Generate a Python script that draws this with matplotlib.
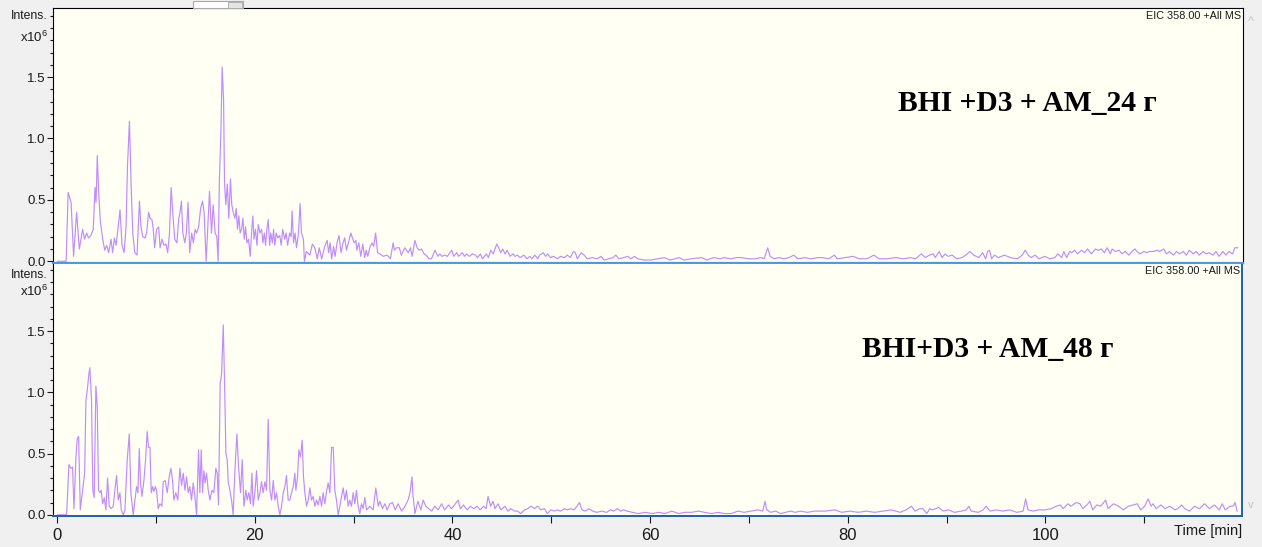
import numpy as np
import matplotlib
matplotlib.use('Agg')
import matplotlib.pyplot as plt
from matplotlib import font_manager
from matplotlib.patches import Rectangle
from matplotlib.ticker import MultipleLocator, FixedLocator

# EIC 358.00 (time in min, intensity in 1e6)
t_24 = [0.0, 0.9, 1.1, 1.4, 1.65, 1.96, 2.23, 2.57, 2.76, 2.97, 3.17, 3.4, 3.64, 3.82, 3.92, 4.05, 4.19, 4.36, 4.6, 4.8,
        5.0, 5.2, 5.44, 5.6, 5.78, 5.95, 6.15, 6.35, 6.55, 6.76, 6.96, 7.1, 7.3, 7.47, 7.64, 7.84, 8.07, 8.31, 8.47, 8.64,
        8.88, 9.04, 9.24, 9.38, 9.58, 9.71, 9.85, 10.05, 10.26, 10.4, 10.6, 10.8, 11.0, 11.17, 11.35, 11.52, 11.68, 11.88, 12.1, 12.29,
        12.42, 12.56, 12.7, 12.9, 13.06, 13.23, 13.4, 13.6, 13.77, 13.94, 14.1, 14.3, 14.5, 14.69, 14.85, 15.06, 15.2, 15.4, 15.6, 15.77,
        15.97, 16.14, 16.27, 16.4, 16.55, 16.68, 16.82, 16.92, 17.05, 17.2, 17.35, 17.52, 17.65, 17.8, 17.97, 18.1, 18.23, 18.37, 18.5, 18.64,
        18.78, 18.91, 19.05, 19.18, 19.35, 19.52, 19.65, 19.78, 19.9, 20.05, 20.2, 20.33, 20.5, 20.67, 20.8, 20.94, 21.07, 21.2, 21.34, 21.48,
        21.6, 21.75, 21.88, 22.0, 22.15, 22.3, 22.5, 22.65, 22.8, 23.0, 23.15, 23.3, 23.5, 23.65, 23.75, 23.9, 24.05, 24.2, 24.4, 24.56,
        24.7, 24.9, 25.0, 25.2, 25.55, 25.8, 26.05, 26.3, 26.5, 26.75, 27.05, 27.3, 27.45, 27.6, 27.75, 27.95, 28.1, 28.3, 28.5, 28.7,
        28.9, 29.08, 29.25, 29.45, 29.69, 29.85, 30.05, 30.2, 30.3, 30.5, 30.7, 30.9, 31.1, 31.25, 31.4, 31.65, 31.85, 32.0, 32.2, 32.4,
        32.6, 32.8, 33.0, 33.3, 33.5, 33.7, 33.97, 34.1, 34.3, 34.6, 34.8, 35.15, 35.5, 35.73, 35.9, 36.17, 36.4, 36.6, 36.85, 37.1,
        37.3, 37.6, 37.85, 38.2, 38.5, 38.7, 38.9, 39.2, 39.45, 39.9, 40.1, 40.4, 40.6, 40.96, 41.2, 41.4, 41.7, 42.0, 42.3, 42.5,
        42.8, 43.0, 43.4, 43.6, 43.85, 44.1, 44.45, 44.65, 44.85, 45.05, 45.3, 45.5, 45.8, 46.1, 46.3, 46.55, 46.8, 47.2, 47.5, 47.8,
        48.0, 48.3, 48.6, 48.8, 49.15, 49.4, 49.6, 49.9, 50.2, 50.6, 50.9, 51.3, 51.6, 51.9, 52.2, 52.4, 52.6, 53.0, 53.3, 53.6,
        54.1, 54.6, 55.0, 55.3, 55.8, 56.2, 56.5, 56.8, 57.3, 57.7, 58.0, 58.4, 58.7, 59.4, 60.0, 60.7, 61.4, 62.0, 62.9, 63.4,
        64.1, 65.2, 65.7, 66.4, 67.1, 67.4, 68.1, 68.7, 69.2, 69.9, 70.6, 71.2, 71.5, 71.86, 72.1, 72.5, 73.0, 73.5, 74.0, 74.5,
        74.9, 75.6, 76.2, 76.9, 77.4, 78.05, 78.6, 78.9, 79.7, 80.5, 81.1, 81.9, 82.6, 83.1, 83.9, 84.8, 85.6, 86.3, 86.8, 87.4,
        87.8, 88.2, 88.6, 88.8, 89.2, 89.5, 89.8, 90.1, 90.5, 91.0, 91.5, 91.9, 92.3, 92.7, 93.2, 93.6, 93.9, 94.1, 94.3, 94.5,
        94.8, 95.2, 95.8, 96.4, 97.1, 97.6, 97.9, 98.2, 98.5, 98.9, 99.3, 99.9, 100.4, 100.9, 101.2, 101.6, 101.8, 102.1, 102.4, 102.6,
        102.9, 103.2, 103.6, 103.9, 104.2, 104.6, 105.0, 105.3, 105.6, 105.9, 106.2, 106.5, 106.7, 107.0, 107.4, 107.7, 108.0, 108.4, 108.7, 109.0,
        109.2, 109.5, 109.9, 110.2, 110.5, 110.9, 111.2, 111.5, 111.9, 112.2, 112.5, 112.9, 113.2, 113.5, 113.9, 114.2, 114.5, 114.9, 115.2, 115.5,
        115.9, 116.2, 116.5, 116.9, 117.2, 117.5, 117.9, 118.2, 118.5, 118.9, 119.1, 119.4]
i_24 = [0.0, 0.0, 0.56, 0.48, 0.04, 0.40, 0.10, 0.26, 0.18, 0.23, 0.19, 0.21, 0.26, 0.60, 0.48, 0.86, 0.56, 0.32, 0.18, 0.09,
        0.13, 0.07, 0.18, 0.07, 0.19, 0.13, 0.27, 0.42, 0.13, 0.07, 0.28, 0.77, 1.14, 0.62, 0.23, 0.07, 0.05, 0.49, 0.28, 0.20,
        0.19, 0.23, 0.40, 0.35, 0.34, 0.26, 0.11, 0.26, 0.28, 0.11, 0.18, 0.13, 0.14, 0.07, 0.23, 0.60, 0.40, 0.18, 0.15, 0.35,
        0.40, 0.49, 0.23, 0.15, 0.23, 0.48, 0.07, 0.23, 0.15, 0.26, 0.23, 0.28, 0.43, 0.49, 0.40, 0.0, 0.23, 0.57, 0.23, 0.46,
        0.23, 0.20, 0.0, 0.67, 1.05, 1.58, 1.32, 0.63, 0.46, 0.63, 0.35, 0.67, 0.46, 0.40, 0.35, 0.43, 0.26, 0.37, 0.23, 0.26,
        0.35, 0.18, 0.28, 0.15, 0.18, 0.04, 0.23, 0.37, 0.18, 0.26, 0.13, 0.30, 0.23, 0.26, 0.15, 0.23, 0.13, 0.26, 0.34, 0.13,
        0.23, 0.15, 0.26, 0.13, 0.23, 0.19, 0.21, 0.13, 0.26, 0.18, 0.23, 0.13, 0.23, 0.20, 0.41, 0.15, 0.23, 0.11, 0.23, 0.47,
        0.23, 0.18, 0.0, 0.08, 0.05, 0.14, 0.11, 0.02, 0.11, 0.02, 0.12, 0.17, 0.07, 0.15, 0.02, 0.12, 0.04, 0.15, 0.21, 0.07,
        0.15, 0.19, 0.09, 0.15, 0.23, 0.19, 0.15, 0.17, 0.09, 0.15, 0.04, 0.14, 0.03, 0.09, 0.04, 0.12, 0.15, 0.12, 0.23, 0.07,
        0.06, 0.05, 0.04, 0.05, 0.04, 0.02, 0.15, 0.09, 0.11, 0.11, 0.05, 0.11, 0.07, 0.11, 0.04, 0.17, 0.11, 0.09, 0.10, 0.06,
        0.05, 0.02, 0.02, 0.09, 0.04, 0.06, 0.04, 0.05, 0.04, 0.09, 0.04, 0.07, 0.04, 0.07, 0.04, 0.06, 0.04, 0.06, 0.05, 0.03,
        0.06, 0.02, 0.06, 0.03, 0.09, 0.06, 0.14, 0.11, 0.07, 0.10, 0.06, 0.09, 0.04, 0.06, 0.04, 0.05, 0.03, 0.05, 0.02, 0.04,
        0.02, 0.05, 0.02, 0.05, 0.07, 0.04, 0.06, 0.03, 0.04, 0.02, 0.04, 0.03, 0.05, 0.03, 0.08, 0.07, 0.02, 0.07, 0.05, 0.02,
        0.03, 0.02, 0.04, 0.01, 0.02, 0.03, 0.05, 0.02, 0.03, 0.04, 0.02, 0.04, 0.02, 0.01, 0.01, 0.02, 0.03, 0.01, 0.03, 0.01,
        0.02, 0.03, 0.01, 0.03, 0.02, 0.03, 0.02, 0.03, 0.03, 0.02, 0.02, 0.03, 0.02, 0.11, 0.04, 0.02, 0.03, 0.02, 0.03, 0.05,
        0.02, 0.03, 0.02, 0.03, 0.03, 0.02, 0.05, 0.02, 0.03, 0.04, 0.02, 0.02, 0.05, 0.02, 0.02, 0.03, 0.02, 0.03, 0.02, 0.06,
        0.03, 0.05, 0.06, 0.03, 0.08, 0.03, 0.06, 0.04, 0.05, 0.02, 0.03, 0.05, 0.08, 0.05, 0.03, 0.07, 0.02, 0.08, 0.09, 0.02,
        0.05, 0.03, 0.05, 0.03, 0.02, 0.05, 0.09, 0.05, 0.03, 0.05, 0.02, 0.04, 0.02, 0.03, 0.06, 0.03, 0.08, 0.03, 0.08, 0.07,
        0.09, 0.06, 0.09, 0.07, 0.10, 0.06, 0.10, 0.09, 0.10, 0.07, 0.11, 0.06, 0.10, 0.08, 0.09, 0.06, 0.08, 0.05, 0.08, 0.10,
        0.08, 0.06, 0.08, 0.07, 0.08, 0.08, 0.09, 0.08, 0.10, 0.06, 0.08, 0.05, 0.08, 0.06, 0.08, 0.05, 0.09, 0.06, 0.08, 0.05,
        0.08, 0.06, 0.07, 0.05, 0.08, 0.04, 0.08, 0.05, 0.08, 0.06, 0.11, 0.11]

t_48 = [0.0, 0.95, 1.18, 1.38, 1.55, 1.69, 1.89, 2.02, 2.16, 2.33, 2.56, 2.77, 2.9, 3.07, 3.2, 3.3, 3.47, 3.6, 3.74, 3.91,
        4.05, 4.18, 4.32, 4.45, 4.59, 4.76, 4.92, 5.09, 5.26, 5.46, 5.67, 5.83, 6.0, 6.17, 6.34, 6.48, 6.68, 6.85, 7.08, 7.29,
        7.45, 7.69, 7.86, 8.03, 8.16, 8.3, 8.43, 8.57, 8.77, 8.94, 9.1, 9.24, 9.38, 9.51, 9.65, 9.78, 9.92, 10.05, 10.22, 10.39,
        10.59, 10.72, 10.93, 11.13, 11.33, 11.5, 11.67, 11.8, 12.0, 12.2, 12.41, 12.58, 12.75, 12.92, 13.09, 13.25, 13.42, 13.59, 13.76, 13.93,
        14.1, 14.3, 14.43, 14.57, 14.7, 14.84, 14.97, 15.11, 15.28, 15.45, 15.65, 15.85, 16.05, 16.19, 16.32, 16.49, 16.63, 16.8, 16.93, 17.07,
        17.2, 17.3, 17.47, 17.64, 17.8, 17.98, 18.18, 18.35, 18.55, 18.72, 18.89, 19.09, 19.22, 19.39, 19.56, 19.7, 19.83, 20.0, 20.17, 20.34,
        20.51, 20.67, 20.84, 21.01, 21.18, 21.35, 21.52, 21.69, 21.86, 22.02, 22.19, 22.36, 22.53, 22.7, 22.87, 23.04, 23.2, 23.37, 23.54, 23.71,
        23.88, 24.05, 24.15, 24.32, 24.45, 24.62, 24.79, 24.92, 25.06, 25.23, 25.4, 25.56, 25.73, 25.9, 26.07, 26.24, 26.41, 26.58, 26.75, 26.91,
        27.08, 27.25, 27.42, 27.59, 27.76, 27.93, 28.09, 28.26, 28.43, 28.6, 28.77, 28.94, 29.1, 29.27, 29.44, 29.61, 29.78, 29.95, 30.12, 30.28,
        30.45, 30.62, 30.79, 30.96, 31.13, 31.3, 31.64, 31.97, 32.24, 32.48, 32.65, 32.92, 33.15, 33.39, 33.66, 33.93, 34.2, 34.5, 34.85, 35.2,
        35.5, 35.7, 35.9, 36.0, 36.2, 36.5, 36.8, 37.03, 37.3, 37.6, 37.9, 38.2, 38.55, 38.9, 39.2, 39.6, 39.9, 40.2, 40.57, 40.8,
        41.1, 41.5, 41.8, 42.15, 42.5, 42.8, 43.15, 43.4, 43.6, 43.85, 44.1, 44.3, 44.6, 44.9, 45.3, 45.6, 45.9, 46.3, 46.6, 46.9,
        47.3, 47.6, 47.95, 48.3, 48.6, 48.95, 49.3, 49.6, 49.95, 50.3, 50.6, 50.95, 51.3, 51.6, 51.95, 52.3, 52.6, 52.85, 53.1, 53.45,
        53.8, 54.2, 54.6, 55.1, 55.6, 56.0, 56.3, 56.7, 57.0, 57.3, 57.7, 58.2, 58.8, 59.5, 60.2, 60.9, 61.5, 62.2, 62.9, 63.5,
        64.2, 64.9, 65.5, 66.2, 66.9, 67.5, 68.2, 68.9, 69.5, 70.2, 70.9, 71.4, 71.63, 71.8, 72.2, 72.7, 73.2, 73.7, 74.2, 74.7,
        75.2, 75.9, 76.6, 77.7, 78.7, 79.4, 80.2, 81.05, 81.9, 82.7, 83.6, 84.4, 85.3, 85.9, 86.45, 86.8, 87.3, 87.6, 88.0, 88.3,
        88.6, 89.2, 89.65, 90.2, 90.8, 91.5, 92.0, 92.25, 92.5, 93.2, 93.7, 94.0, 94.4, 95.05, 95.7, 96.4, 97.1, 97.75, 98.0, 98.25,
        98.8, 99.3, 100.0, 100.6, 101.1, 101.5, 101.8, 102.3, 102.6, 103.1, 103.5, 103.8, 104.2, 104.5, 104.8, 105.2, 105.6, 106.1, 106.35, 106.9,
        107.4, 107.9, 108.4, 108.9, 109.3, 109.65, 110.05, 110.4, 110.7, 110.9, 111.2, 111.7, 112.1, 112.6, 113.1, 113.4, 113.8, 114.1, 114.6, 115.1,
        115.6, 116.1, 116.6, 117.1, 117.6, 117.9, 118.2, 118.7, 119.0, 119.2, 119.4]
i_48 = [0.0, 0.0, 0.41, 0.38, 0.39, 0.05, 0.47, 0.62, 0.64, 0.04, 0.20, 0.34, 0.93, 1.04, 1.15, 1.20, 0.93, 0.20, 0.14, 1.05,
        0.88, 0.20, 0.18, 0.20, 0.09, 0.14, 0.04, 0.30, 0.07, 0.05, 0.07, 0.20, 0.32, 0.12, 0.18, 0.04, 0.0, 0.04, 0.45, 0.66,
        0.18, 0.0, 0.12, 0.23, 0.18, 0.54, 0.26, 0.15, 0.28, 0.45, 0.68, 0.55, 0.55, 0.18, 0.23, 0.19, 0.23, 0.20, 0.05, 0.09,
        0.07, 0.27, 0.28, 0.18, 0.31, 0.38, 0.28, 0.12, 0.18, 0.12, 0.38, 0.24, 0.34, 0.20, 0.31, 0.18, 0.23, 0.12, 0.26, 0.15,
        0.0, 0.53, 0.18, 0.53, 0.18, 0.36, 0.26, 0.34, 0.20, 0.12, 0.20, 0.18, 0.38, 0.34, 0.08, 1.07, 1.15, 1.55, 1.09, 0.50,
        0.45, 0.27, 0.20, 0.12, 0.0, 0.36, 0.66, 0.39, 0.18, 0.45, 0.07, 0.20, 0.12, 0.18, 0.09, 0.34, 0.07, 0.18, 0.36, 0.12,
        0.18, 0.27, 0.18, 0.27, 0.20, 0.78, 0.20, 0.12, 0.28, 0.12, 0.18, 0.07, 0.0, 0.07, 0.18, 0.23, 0.32, 0.12, 0.12, 0.18,
        0.23, 0.34, 0.20, 0.31, 0.53, 0.47, 0.61, 0.31, 0.18, 0.07, 0.12, 0.22, 0.12, 0.15, 0.07, 0.12, 0.08, 0.15, 0.07, 0.18,
        0.09, 0.19, 0.26, 0.18, 0.55, 0.55, 0.20, 0.12, 0.0, 0.07, 0.15, 0.22, 0.12, 0.20, 0.07, 0.12, 0.07, 0.18, 0.09, 0.20,
        0.07, 0.01, 0.09, 0.05, 0.14, 0.04, 0.07, 0.04, 0.22, 0.07, 0.11, 0.05, 0.09, 0.04, 0.09, 0.10, 0.04, 0.09, 0.03, 0.07,
        0.12, 0.18, 0.31, 0.16, 0.01, 0.11, 0.04, 0.12, 0.07, 0.05, 0.03, 0.07, 0.04, 0.09, 0.04, 0.08, 0.05, 0.08, 0.12, 0.05,
        0.08, 0.04, 0.07, 0.05, 0.07, 0.04, 0.07, 0.05, 0.15, 0.07, 0.11, 0.05, 0.09, 0.04, 0.07, 0.03, 0.05, 0.03, 0.03, 0.01,
        0.04, 0.05, 0.07, 0.05, 0.07, 0.04, 0.05, 0.01, 0.04, 0.03, 0.04, 0.03, 0.05, 0.04, 0.05, 0.04, 0.07, 0.10, 0.04, 0.03,
        0.05, 0.03, 0.02, 0.03, 0.02, 0.04, 0.03, 0.05, 0.03, 0.04, 0.03, 0.02, 0.01, 0.02, 0.01, 0.02, 0.01, 0.03, 0.01, 0.02,
        0.02, 0.03, 0.02, 0.01, 0.02, 0.01, 0.01, 0.03, 0.02, 0.03, 0.04, 0.03, 0.11, 0.04, 0.02, 0.03, 0.01, 0.02, 0.03, 0.02,
        0.03, 0.02, 0.03, 0.03, 0.04, 0.02, 0.03, 0.02, 0.03, 0.02, 0.03, 0.04, 0.02, 0.04, 0.07, 0.03, 0.05, 0.05, 0.01, 0.05,
        0.04, 0.06, 0.03, 0.04, 0.02, 0.03, 0.04, 0.07, 0.03, 0.02, 0.04, 0.07, 0.03, 0.04, 0.03, 0.04, 0.02, 0.03, 0.13, 0.04,
        0.03, 0.04, 0.04, 0.05, 0.07, 0.08, 0.05, 0.09, 0.07, 0.10, 0.09, 0.05, 0.08, 0.11, 0.04, 0.08, 0.07, 0.12, 0.05, 0.09,
        0.07, 0.04, 0.07, 0.08, 0.09, 0.04, 0.07, 0.13, 0.07, 0.09, 0.05, 0.08, 0.05, 0.07, 0.04, 0.05, 0.08, 0.05, 0.03, 0.07,
        0.05, 0.09, 0.05, 0.08, 0.04, 0.09, 0.04, 0.07, 0.07, 0.10, 0.03]

titles = ['BHI +D3 + AM_24 г', 'BHI+D3 + AM_48 г']
trace_label = 'EIC 358.00 +All MS'
y_ticks = [0.0, 0.5, 1.0, 1.5]
x_ticks = [0, 20, 40, 60, 80, 100]

names = {f.name for f in font_manager.fontManager.ttflist}
narrow = [n for n in ['Liberation Sans Narrow', 'Liberation Sans'] if n in names] + ['DejaVu Sans']
serif = [n for n in ['Liberation Serif', 'DejaVu Serif'] if n in names]
plt.rcParams['font.family'] = narrow
plt.rcParams['mathtext.fontset'] = 'custom'
plt.rcParams['mathtext.rm'] = narrow[0]
plt.rcParams['mathtext.default'] = 'rm'

line_col = '#c08cff'
face_col = '#fffff4'
blue_lt = '#4b98e0'
blue_dk = '#1f5fa8'
txt_col = '#1a1a1a'

W, H = 1262, 547
fig = plt.figure(figsize=(W / 100, H / 100), dpi=100, facecolor='#f0f0f0')


def px_box(left, top, right, bottom):
    return [left / W, 1 - bottom / H, (right - left) / W, (bottom - top) / H]


ax1 = fig.add_axes(px_box(53.3, 8.3, 1242.7, 262.5))
ax2 = fig.add_axes(px_box(53.3, 262.5, 1242.0, 516.0))

for ax, t, y, title, tpos, int_y in [(ax1, t_24, i_24, titles[0], (0.710, 0.627), 2.0),
                                     (ax2, t_48, i_48, titles[1], (0.680, 0.655), 1.955)]:
    ax.set_facecolor(face_col)
    ax.plot(t, y, color=line_col, lw=0.85)
    ax.set_xlim(-0.4, 119.9)
    ax.set_ylim(-0.01, 2.06)
    ax.yaxis.set_major_locator(FixedLocator(y_ticks))
    ax.set_yticklabels(['%.1f' % v for v in y_ticks])
    ax.yaxis.set_minor_locator(MultipleLocator(0.1))
    ax.tick_params(axis='y', which='major', length=4.5, width=0.8, pad=1,
                   labelsize=9.5, colors=txt_col)
    ax.tick_params(axis='y', which='minor', length=2.5, width=0.8, colors=txt_col)
    yt = ax.get_yaxis_transform()
    ax.text(-0.0045, int_y, 'Intens.', transform=yt, ha='right', va='center',
            fontsize=8.8, color=txt_col)
    ax.text(-0.0045, 1.82, r'x10$^{6}$', transform=yt, ha='right', va='center',
            fontsize=9.5, color=txt_col)
    ax.text(0.9985, 0.968, trace_label, transform=ax.transAxes, ha='right', va='center',
            fontsize=7.8, color=txt_col)
    ax.text(tpos[0], tpos[1], title, transform=ax.transAxes, ha='left', va='center',
            fontsize=21.3, fontweight='bold', family=serif, color='black')

# top panel: no x ticks, blue lower border
ax1.tick_params(axis='x', which='both', bottom=False, labelbottom=False)
for s in ['top', 'left', 'right']:
    ax1.spines[s].set_color('black')
ax1.spines['bottom'].set_color(blue_lt)
ax1.spines['bottom'].set_linewidth(1.6)

# bottom panel: time axis
ax2.xaxis.set_major_locator(FixedLocator(x_ticks))
ax2.xaxis.set_minor_locator(MultipleLocator(10))
ax2.tick_params(axis='x', which='both', length=5, width=0.8, pad=4,
                labelsize=12, colors=txt_col)
ax2.spines['left'].set_color('black')
ax2.spines['top'].set_color(blue_lt)
ax2.spines['top'].set_linewidth(1.4)
for s in ['right', 'bottom']:
    ax2.spines[s].set_color(blue_dk)
    ax2.spines[s].set_linewidth(1.4)
ax2.text(1.0, -0.06, 'Time [min]', transform=ax2.transAxes, ha='right', va='center',
         fontsize=10.5, color=txt_col)

# window chrome around the plot
fig.add_artist(Rectangle((193 / W, 1 - 8 / H), 50 / W, 7 / H, transform=fig.transFigure,
                         facecolor='white', edgecolor='#a8a8a8', lw=0.8))
fig.add_artist(Rectangle((228 / W, 1 - 8 / H), 14 / W, 6 / H, transform=fig.transFigure,
                         facecolor='#e4e4e4', edgecolor='#a8a8a8', lw=0.6))
fig.text(1251 / W, 1 - 22 / H, '^', ha='center', va='center', fontsize=9, color='#c4c4c4')
fig.text(1251 / W, 1 - 505 / H, 'v', ha='center', va='center', fontsize=8, color='#c4c4c4')

fig.savefig('out.png', dpi=100, facecolor=fig.get_facecolor())
